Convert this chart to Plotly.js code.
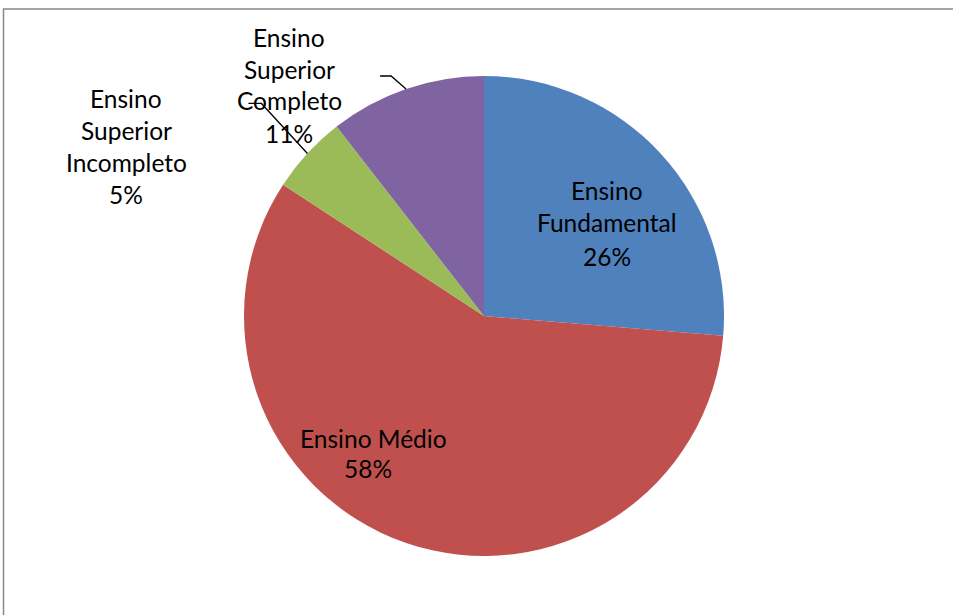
<!DOCTYPE html>
<html>
<head>
<meta charset="utf-8">
<script src="https://cdn.plot.ly/plotly-3.0.1.min.js"></script>
<style>html,body{margin:0;padding:0;background:#fff}#chart{width:953px;height:615px}</style>
</head>
<body>
<div id="chart"></div>
<script>
// Data
const categories = ["Ensino Fundamental", "Ensino Médio", "Ensino Superior Incompleto", "Ensino Superior Completo"];
const values = [5, 11, 1, 2];
const colors = ["#4F81BD", "#C0504D", "#9BBB59", "#8064A2"];
// label line breaks (text only)
const labelLines = [
  ["Ensino", "Fundamental"],
  ["Ensino Médio"],
  ["Ensino", "Superior", "Incompleto"],
  ["Ensino", "Superior", "Completo"]
];

const W = 953, H = 615;
const cx = 484, cy = 316, R = 240;
const px2x = p => p / W;
const px2y = p => 1 - p / H;

const total = values.reduce((a, b) => a + b, 0);
const pct = values.map(v => Math.round(v / total * 100) + "%");

// label layout (centre of first line, line spacing) - styling
const labelPos = [
  {x: 607, y: 190, dy: 33},
  {x: 373, y: 438, dy: 30},
  {x: 126, y: 98, dy: 32},
  {x: 289, y: 37, dy: 32}
];
const font = {family: "Lato, 'Open Sans', sans-serif", size: 24.5, color: "#000"};

const annotations = [];
categories.forEach((c, i) => {
  const lines = labelLines[i].concat([pct[i]]);
  lines.forEach((t, k) => {
    let x = labelPos[i].x;
    if (i === 1 && k === 1) x -= 5;
    annotations.push({
      xref: "paper", yref: "paper",
      x: px2x(x), y: px2y(labelPos[i].y + k * labelPos[i].dy),
      xanchor: "center", yanchor: "middle",
      text: t, showarrow: false, font: font
    });
  });
});

// leader lines for outside labels, ending at slice mid-angle on the edge
const shapes = [];
let cum = 0;
const mids = values.map(v => { const m = (cum + v / 2) / total; cum += v; return m; });
const elbows = {2: {dx: -46, dy: -50, hx: -13}, 3: {dx: -15, dy: -13, hx: -11}};
Object.keys(elbows).forEach(k => {
  const i = +k;
  const a = mids[i] * 2 * Math.PI;
  const ex = cx + R * Math.sin(a), ey = cy - R * Math.cos(a);
  const e = elbows[i];
  const bx = ex + e.dx, by = ey + e.dy;
  const hx = bx + e.hx;
  shapes.push({
    type: "path", xref: "paper", yref: "paper",
    path: `M ${px2x(ex)},${px2y(ey)} L ${px2x(bx)},${px2y(by)} L ${px2x(hx)},${px2y(by)}`,
    line: {color: "#000", width: 1.3}
  });
});
// chart-area border (left & top visible)
shapes.push({
  type: "path", xref: "paper", yref: "paper",
  path: `M ${px2x(3.5)},${px2y(615)} L ${px2x(3.5)},${px2y(9)} L ${px2x(953)},${px2y(9)}`,
  line: {color: "#888888", width: 1.5}
});

const trace = {
  type: "pie",
  labels: categories,
  values: values,
  marker: {colors: colors, line: {width: 0}},
  sort: false,
  direction: "clockwise",
  rotation: 0,
  textinfo: "none",
  hoverinfo: "label+percent",
  showlegend: false,
  domain: {x: [px2x(cx - R), px2x(cx + R)], y: [px2y(cy + R), px2y(cy - R)]}
};

const layout = {
  width: W, height: H,
  margin: {l: 0, r: 0, t: 0, b: 0},
  paper_bgcolor: "#fff",
  showlegend: false,
  annotations: annotations,
  shapes: shapes
};

Plotly.newPlot("chart", [trace], layout, {displayModeBar: false, staticPlot: true});
</script>
</body>
</html>
